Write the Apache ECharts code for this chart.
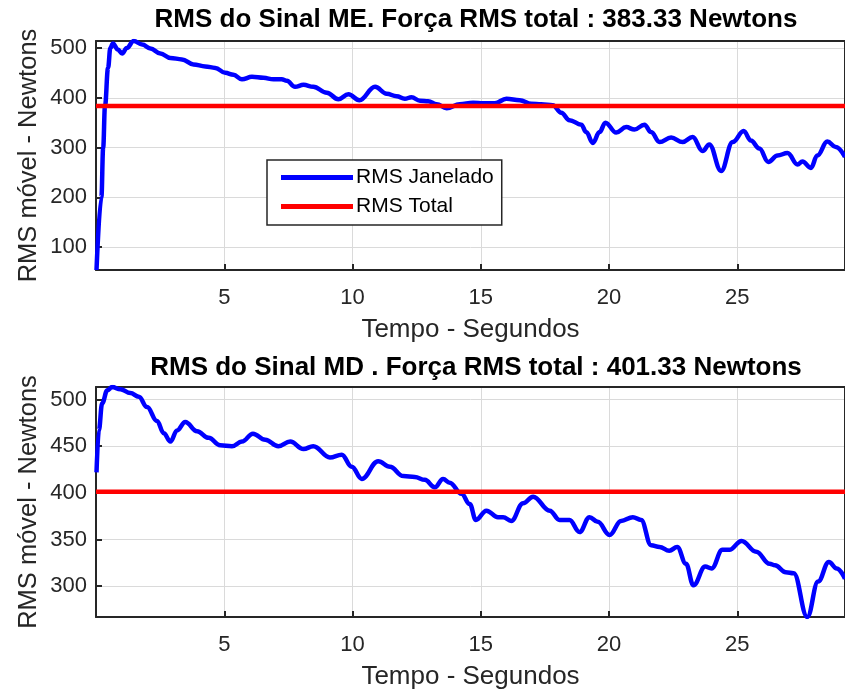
<!DOCTYPE html>
<html>
<head>
<meta charset="utf-8">
<script src="https://cdn.jsdelivr.net/npm/echarts@6/dist/echarts.min.js"></script>
<style>
  html, body { margin: 0; padding: 0; background: #fff; }
  #chart { width: 845px; height: 692px; }
</style>
</head>
<body>
<div id="chart"></div>
<script>
// Moving-window RMS of the two force signals (ME / MD), in Newtons over time (s)
const timeME = [0.02, 0.21, 0.28, 0.35, 0.47, 0.56, 0.66, 0.85, 1.02, 1.2, 1.47, 1.8, 2.12, 2.51, 2.9, 3.35, 3.8, 4.26, 4.65, 5.04, 5.36, 5.69, 6.08, 6.53, 6.92, 7.24, 7.44, 7.76, 8.09, 8.47, 9.0, 9.45, 9.84, 10.27, 10.88, 11.33, 11.72, 12.04, 12.3, 12.63, 12.95, 13.28, 13.67, 14.18, 14.7, 15.09, 15.55, 16.0, 16.52, 16.97, 17.36, 17.81, 18.14, 18.46, 18.92, 19.11, 19.37, 19.63, 19.86, 20.28, 20.67, 20.99, 21.38, 21.64, 21.97, 22.42, 22.87, 23.26, 23.65, 23.91, 24.37, 24.82, 25.25, 25.53, 25.86, 26.21, 26.57, 26.96, 27.35, 27.54, 27.87, 28.12, 28.51, 28.84, 29.2];
const rmsME = [54, 200, 300, 383, 460, 500, 509, 497, 489, 500, 514, 507, 499, 489, 480, 477, 467, 463, 460, 450, 446, 437, 442, 440, 437, 437, 434, 422, 426, 422, 410, 397, 407, 395, 422, 408, 403, 398, 401, 394, 393, 387, 379, 387, 390, 389, 389, 398, 395, 388, 387, 385, 370, 355, 346, 331, 309, 331, 350, 330, 341, 336, 346, 331, 311, 320, 311, 321, 293, 306, 253, 311, 333, 314, 298, 271, 284, 289, 266, 272, 259, 284, 312, 301, 281];

const timeMD = [0.02, 0.11, 0.24, 0.44, 0.63, 0.95, 1.34, 1.67, 1.99, 2.38, 2.64, 2.9, 3.16, 3.48, 3.94, 4.39, 4.84, 5.3, 5.69, 6.12, 6.6, 7.11, 7.57, 8.09, 8.47, 9.12, 9.58, 9.97, 10.36, 11.0, 11.46, 11.98, 12.43, 12.82, 13.21, 13.53, 13.79, 14.25, 14.57, 14.81, 15.22, 15.67, 15.87, 16.19, 16.65, 17.04, 17.69, 18.07, 18.46, 18.85, 19.24, 19.56, 20.02, 20.47, 20.93, 21.25, 21.64, 21.97, 22.35, 22.66, 23.0, 23.29, 23.75, 24.0, 24.42, 24.69, 25.17, 25.74, 26.26, 26.47, 26.89, 27.2, 27.73, 28.15, 28.57, 28.88, 29.2];
const rmsMD = [422, 467, 496, 510, 513.5, 511, 507, 503, 492, 477, 464, 455, 467, 476, 466, 459, 451, 450, 455, 463.5, 457, 450, 455, 447, 450, 438, 441, 428, 415, 434, 428, 418, 417, 414, 406, 415, 411, 399, 388, 371, 381, 374, 374, 370, 389, 396, 381, 371, 371, 358, 374, 369, 355, 370, 374, 371, 344, 342, 338, 342, 324, 301, 321, 319, 339, 339, 348.5, 337, 324, 322.5, 315, 314, 267, 305, 326, 319, 308];

// Overall RMS of each signal
const rmsTotalME = 383.33;
const rmsTotalMD = 401.33;

// Tick labels
const xTicks = [5, 10, 15, 20, 25];
const yTicksME = [100, 200, 300, 400, 500];
const yTicksMD = [300, 350, 400, 450, 500];

const seriesNames = ['RMS Janelado', 'RMS Total'];
const titleME = 'RMS do Sinal ME. Força RMS total : ' + rmsTotalME.toFixed(2) + ' Newtons';
const titleMD = 'RMS do Sinal MD . Força RMS total : ' + rmsTotalMD.toFixed(2) + ' Newtons';
const xName = 'Tempo - Segundos';
const yName = 'RMS móvel - Newtons';

const FONT = '"Liberation Sans", Arial, Helvetica, sans-serif';
const INK = '#262626';
const GRIDC = '#dadada';

const pairs = (xs, ys) => xs.map((x, i) => [x, ys[i]]);
const tEnd = Math.max(timeME[timeME.length - 1], timeMD[timeMD.length - 1]);
const flat = (v) => [[0, v], [tEnd, v]];

// the right edge of each box sits just past the canvas edge
const grids = [
  { left: 96, top: 41, width: 752, height: 229 },
  { left: 96, top: 387, width: 752, height: 230 }
];

function xAxes(gi) {
  const common = {
    type: 'value', gridIndex: gi, min: 0, max: 'dataMax',
    axisLine: { show: true, onZero: false, lineStyle: { color: INK, width: 2 } },
    axisTick: { show: true, inside: true, length: 6, customValues: xTicks, lineStyle: { color: INK, width: 2 } },
    splitLine: { show: false }
  };
  return [
    Object.assign({}, common, {
      position: 'bottom',
      name: xName, nameLocation: 'middle', nameGap: 47,
      nameTextStyle: { fontFamily: FONT, fontSize: 26, color: INK },
      axisLabel: { customValues: xTicks, margin: 17, fontFamily: FONT, fontSize: 22, color: INK },
      splitLine: { show: true, lineStyle: { color: GRIDC, width: 1 } }
    }),
    Object.assign({}, common, { position: 'top', axisLabel: { show: false } })
  ];
}

function yAxes(gi, ticks) {
  const common = {
    type: 'value', gridIndex: gi, min: 'dataMin', max: 'dataMax', scale: true,
    axisLine: { show: true, onZero: false, lineStyle: { color: INK, width: 2 } },
    axisTick: { show: true, inside: true, length: 6, customValues: ticks, lineStyle: { color: INK, width: 2 } },
    splitLine: { show: false }
  };
  return [
    Object.assign({}, common, {
      position: 'left',
      name: yName, nameLocation: 'middle', nameGap: 54, nameRotate: 90,
      nameMoveOverlap: false,
      nameTextStyle: { fontFamily: FONT, fontSize: 25.5, color: INK },
      axisLabel: { customValues: ticks, margin: 9, fontFamily: FONT, fontSize: 22, color: INK },
      splitLine: { show: true, lineStyle: { color: GRIDC, width: 1 } }
    }),
    Object.assign({}, common, { position: 'right', axisLabel: { show: false } })
  ];
}

const lineBase = { type: 'line', showSymbol: false, symbol: 'none', animation: false, z: 3 };

const option = {
  animation: false,
  backgroundColor: '#ffffff',
  title: [
    { text: titleME, left: 471, top: 2, textAlign: 'center',
      textStyle: { fontFamily: FONT, fontSize: 26, fontWeight: 'bold', color: '#000' } },
    { text: titleMD, left: 471, top: 350, textAlign: 'center',
      textStyle: { fontFamily: FONT, fontSize: 26, fontWeight: 'bold', color: '#000' } }
  ],
  grid: grids,
  xAxis: [...xAxes(0), ...xAxes(1)],
  yAxis: [...yAxes(0, yTicksME), ...yAxes(1, yTicksMD)],
  legend: {
    data: seriesNames, orient: 'vertical', left: 267, top: 160,
    selectedMode: false,
    icon: 'rect', itemWidth: 72, itemHeight: 5, itemGap: 8,
    padding: [7, 8, 8, 14],
    backgroundColor: '#fff', borderColor: INK, borderWidth: 1.5, borderRadius: 0,
    textStyle: { fontFamily: FONT, fontSize: 21, color: '#000', padding: [0, 0, 0, -2] }
  },
  series: [
    Object.assign({}, lineBase, { name: seriesNames[0], xAxisIndex: 0, yAxisIndex: 0,
      data: pairs(timeME, rmsME), smooth: 0.4, smoothMonotone: 'x',
      lineStyle: { color: '#0000ff', width: 4.5 }, itemStyle: { color: '#0000ff' } }),
    Object.assign({}, lineBase, { name: seriesNames[1], xAxisIndex: 0, yAxisIndex: 0,
      data: flat(rmsTotalME), lineStyle: { color: '#ff0000', width: 4.5 }, itemStyle: { color: '#ff0000' } }),
    Object.assign({}, lineBase, { name: seriesNames[0], xAxisIndex: 2, yAxisIndex: 2,
      data: pairs(timeMD, rmsMD), smooth: 0.4, smoothMonotone: 'x',
      lineStyle: { color: '#0000ff', width: 4.5 }, itemStyle: { color: '#0000ff' } }),
    Object.assign({}, lineBase, { name: seriesNames[1], xAxisIndex: 2, yAxisIndex: 2,
      data: flat(rmsTotalMD), lineStyle: { color: '#ff0000', width: 4.5 }, itemStyle: { color: '#ff0000' } })
  ]
};

const chart = echarts.init(document.getElementById('chart'), null, { renderer: 'canvas' });
chart.setOption(option);
</script>
</body>
</html>
